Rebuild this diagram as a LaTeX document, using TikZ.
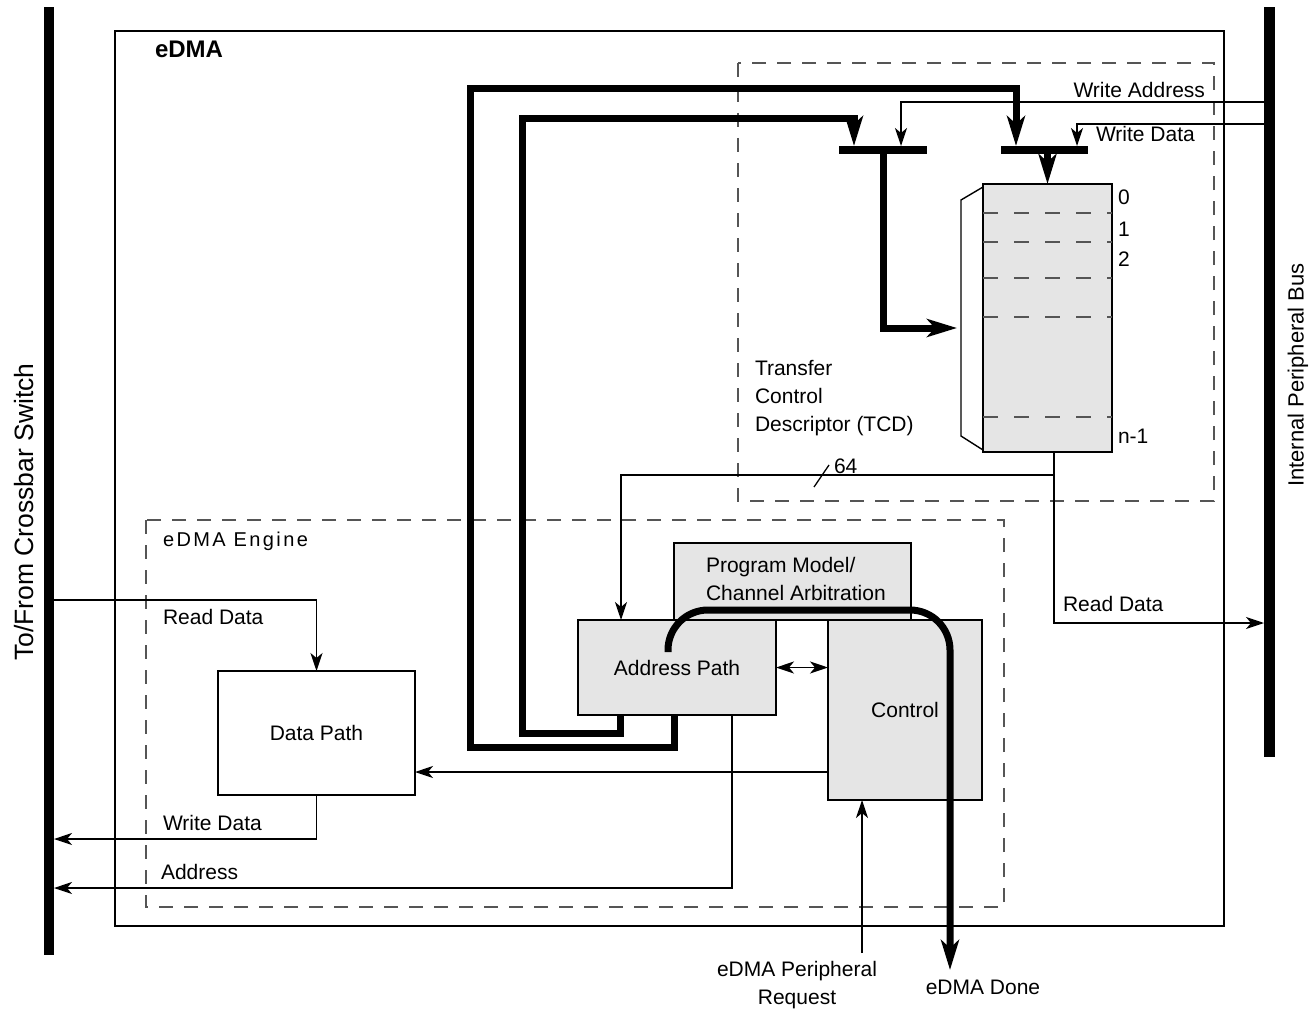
\documentclass[tikz,border=0pt]{standalone}
\usepackage{fontspec}
\setmainfont{Liberation Sans}
\usetikzlibrary{arrows.meta}
\definecolor{boxgray}{HTML}{E5E5E5}
\definecolor{dashgray}{HTML}{555555}
\begin{document}
\begin{tikzpicture}[x=1pt,y=-1pt,
  every node/.style={font=\fontsize{21}{28}\selectfont, inner sep=0pt, outer sep=0pt},
  sig/.style={line width=1.3pt},
  sarrow/.style={-{Stealth[length=18pt,width=12pt,inset=5pt]}},
  sboth/.style={{Stealth[length=18pt,width=12pt,inset=5pt]}-{Stealth[length=18pt,width=12pt,inset=5pt]}},
  buswire/.style={line width=7pt},
  barrow/.style={-{Stealth[length=30pt,width=18pt,inset=8pt]}},
  blk/.style={draw, line width=2.4pt, fill=boxgray},
  wblk/.style={draw, line width=2.6pt, fill=white},
  dsh/.style={draw=dashgray, line width=1.3pt, dash pattern=on 14pt off 11pt},
  rowdsh/.style={draw=dashgray, line width=1.5pt, dash pattern=on 15pt off 16pt},
  barnode/.style={fill=black, draw=none},
  lbl/.style={anchor=west},
]
\useasboundingbox (0,0) rectangle (1314,1014);

% buses
\node[barnode, minimum width=10pt, minimum height=948pt] (lbus) at (49,481) {};
\node[barnode, minimum width=11pt, minimum height=750pt] (rbus) at (1269.5,382) {};
\node[rotate=90, font=\fontsize{26.5}{30}\selectfont] (lbustxt) at (24,512) {To/From Crossbar Switch};
\node[rotate=90, font=\fontsize{22}{26}\selectfont] (rbustxt) at (1298,375) {Internal Peripheral Bus};

% outer eDMA box
\draw[line width=1.8pt] (115,31) rectangle (1224,926);
\node[lbl, font=\fontsize{24}{28}\selectfont\bfseries] (edmatxt) at (155,49) {eDMA};

% dashed regions
\draw[dsh] (738,63) rectangle (1214,501);
\draw[dsh] (146,520) rectangle (1004,907);
\node[lbl, font=\fontsize{20}{24}\selectfont\addfontfeature{LetterSpace=12}] (engtxt) at (163,541) {eDMA Engine};

% TCD
\node[draw, line width=1.6pt, fill=boxgray, minimum width=129pt, minimum height=268pt] (tcd) at (1047.5,318) {};
\foreach \yy in {213,242,278,317,417} \draw[rowdsh] (983,\yy) -- (1112,\yy);
\draw[line width=1.4pt] (983,187) -- (961,200) -- (961,436) -- (983,450);
\node[lbl] (r0) at (1118,197) {0};
\node[lbl] (r1) at (1118,229) {1};
\node[lbl] (r2) at (1118,259) {2};
\node[lbl] (rn) at (1118,436) {n-1};
\node[lbl, align=left] (tcdtxt) at (755,398) {Transfer\\Control\\Descriptor (TCD)};

% mux bars
\node[barnode, minimum width=88pt, minimum height=8pt] (mux1) at (883,150) {};
\node[barnode, minimum width=87pt, minimum height=8pt] (mux2) at (1044.5,150) {};

% engine blocks
\node[wblk, minimum width=197pt, minimum height=124pt] (dp) at (316.5,733) {Data Path};
\node[blk, minimum width=237pt, minimum height=77pt] (pm) at (792.5,581.5) {};
\node[lbl, align=left] (pmtxt) at (706,578.5) {Program Model/\\Channel Arbitration};
\node[blk, minimum width=198pt, minimum height=95pt] (ap) at (677,667.5) {Address Path};
\node[blk, minimum width=154pt, minimum height=180pt] (ctl) at (905,710) {Control};

% top write signals
\coordinate (wa) at (1264,102);
\coordinate (wdt) at (1264,124);
\draw[sig, sarrow] (wa) -- (901,102) -- (901,146);
\draw[sig, sarrow] (wdt) -- (1077,124) -- (1077,146);
\node[anchor=east] (watxt) at (1205,90) {Write Address};
\node[lbl] (wdtxt) at (1096,134) {Write Data};

% thick loops from address path to muxes
\draw[buswire, barrow] (620,715) -- (620,733) -- (522,733) -- (522,119) -- (854,119) -- (854,146);
\draw[buswire, barrow] (674,715) -- (674,747) -- (470,747) -- (470,89) -- (1016,89) -- (1016,146);
\draw[buswire, barrow] (mux1.south) -- (883,328) -- (957,328);
\draw[buswire, barrow] (mux2.south -| tcd.north) -- (tcd.north);

% TCD output
\coordinate (tcdo) at (1054,452);
\coordinate (rdr) at (1264,623);
\draw[sig, sarrow] (tcdo) |- (rdr);
\draw[sig, sarrow] (1054,475) -- (621,475) -- (ap.north -| 621,0);
\draw[sig] (814,487) -- (829,465);
\node[lbl] (n64) at (834,466) {64};
\node[lbl] (rdrtxt) at (1063,604) {Read Data};

% left side signals
\coordinate (rdl) at (54,600);
\coordinate (wdl) at (54,839);
\coordinate (adl) at (54,888);
\draw[sig, sarrow] (rdl) -| (dp.north);
\draw[sig, sarrow] (dp.south) |- (wdl);
\draw[sig, sarrow] (732,715) |- (adl);
\draw[sig, sarrow] (828,772) -- (415,772);
\draw[sig, sboth] (ap.east) -- (ctl.west |- ap.east);
\node[lbl] (rdltxt) at (163,617) {Read Data};
\node[lbl] (wdltxt) at (163,823) {Write Data};
\node[lbl] (adltxt) at (161,872) {Address};

% bottom
\coordinate (reqs) at (862,953);
\draw[sig, sarrow] (reqs) -- (ctl.south -| reqs);
\node[align=center] (reqtxt) at (797,985) {eDMA Peripheral\\Request};
\draw[buswire, barrow, rounded corners=40pt] (668,652) -- (668,610) -- (950,610) -- (950,970);
\node (donetxt) at (983,987) {eDMA Done};
\end{tikzpicture}
\end{document}
